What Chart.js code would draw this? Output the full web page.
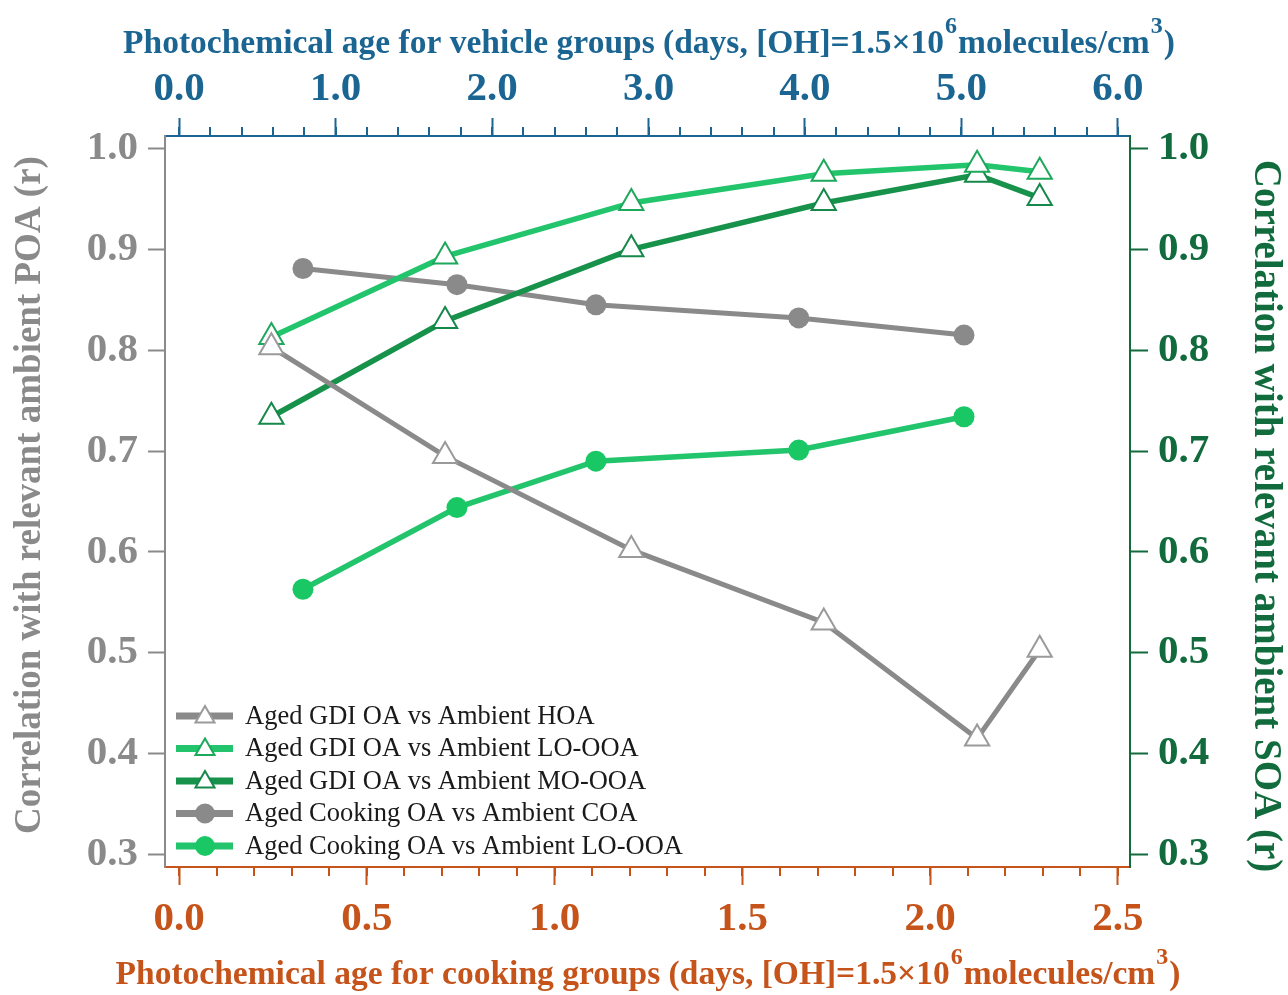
<!DOCTYPE html>
<html>
<head>
<meta charset="utf-8">
<script src="https://cdn.jsdelivr.net/npm/chart.js@4.4.1/dist/chart.umd.min.js"></script>
<style>
  html, body { margin: 0; padding: 0; background: #fff; }
  #wrap { width: 1288px; height: 995px; }
</style>
</head>
<body>
<div id="wrap"><canvas id="chart" width="1288" height="995"></canvas></div>
<script>
// photochemical age (days) of the aged samples
const vehicleAge = [0.59, 1.70, 2.89, 4.12, 5.10, 5.50];
const cookingAge = [0.33, 0.74, 1.11, 1.65, 2.09];

// correlation coefficients (r)
const gdiHOA = [0.803, 0.695, 0.602, 0.530, 0.415, 0.503];
const gdiLOOOA = [0.813, 0.893, 0.946, 0.975, 0.984, 0.977];
const gdiMOOOA = [0.734, 0.829, 0.900, 0.946, 0.974, 0.951];
const cookCOA = [0.881, 0.865, 0.845, 0.832, 0.815];
const cookLOOOA = [0.563, 0.644, 0.690, 0.701, 0.734];

// tick labels
const rTicks = [0.3, 0.4, 0.5, 0.6, 0.7, 0.8, 0.9, 1.0];
const vehicleTicks = [0, 1, 2, 3, 4, 5, 6];
const cookingTicks = [0, 0.5, 1.0, 1.5, 2.0, 2.5];

const GRAY = "#8a8a8a";
const LIGHT_GREEN = "#22c46c";
const DARK_GREEN = "#17924a";
const BLUE = "#1b6592";
const ORANGE = "#c5531a";
const AXIS_GREEN = "#116b3d";
const SERIF = "'Liberation Serif', 'Times New Roman', serif";

const pts = (xs, ys) => xs.map((x, i) => ({ x, y: ys[i] }));

const datasets = [
  {
    label: "Aged GDI OA vs Ambient HOA",
    data: pts(vehicleAge, gdiHOA),
    xAxisID: "xTop", yAxisID: "yLeft",
    borderColor: GRAY, borderWidth: 5,
    pointStyle: "triangle", pointRadius: 14, pointHoverRadius: 14,
    pointBackgroundColor: "#fff", pointBorderColor: "#9a9a9a", pointBorderWidth: 2,
  },
  {
    label: "Aged GDI OA vs Ambient LO-OOA",
    data: pts(vehicleAge, gdiLOOOA),
    xAxisID: "xTop", yAxisID: "yRight",
    borderColor: LIGHT_GREEN, borderWidth: 5.5,
    pointStyle: "triangle", pointRadius: 14, pointHoverRadius: 14,
    pointBackgroundColor: "#fff", pointBorderColor: "#1ea85c", pointBorderWidth: 2,
  },
  {
    label: "Aged GDI OA vs Ambient MO-OOA",
    data: pts(vehicleAge, gdiMOOOA),
    xAxisID: "xTop", yAxisID: "yRight",
    borderColor: DARK_GREEN, borderWidth: 5.5,
    pointStyle: "triangle", pointRadius: 14, pointHoverRadius: 14,
    pointBackgroundColor: "#fff", pointBorderColor: "#15884a", pointBorderWidth: 2,
  },
  {
    label: "Aged Cooking OA vs Ambient COA",
    data: pts(cookingAge, cookCOA),
    xAxisID: "xBottom", yAxisID: "yLeft",
    borderColor: GRAY, borderWidth: 5,
    pointStyle: "circle", pointRadius: 10.5, pointHoverRadius: 10.5,
    pointBackgroundColor: GRAY, pointBorderColor: GRAY, pointBorderWidth: 0,
  },
  {
    label: "Aged Cooking OA vs Ambient LO-OOA",
    data: pts(cookingAge, cookLOOOA),
    xAxisID: "xBottom", yAxisID: "yRight",
    borderColor: LIGHT_GREEN, borderWidth: 5.5,
    pointStyle: "circle", pointRadius: 10.5, pointHoverRadius: 10.5,
    pointBackgroundColor: "#19c864", pointBorderColor: "#19c864", pointBorderWidth: 0,
  },
];

const fixTicks = (values) => (scale) => {
  scale.ticks = values.map((v) => ({ value: v }));
};
const tickFont = { family: SERIF, size: 41, weight: "bold" };
const fmt = (v) => Number(v).toFixed(1);

// minor ticks on both x axes (Chart.js has no minor ticks for linear scales)
const minorTicks = {
  id: "minorTicks",
  afterDraw(chart) {
    const ctx = chart.ctx;
    const draw = (scale, step, max, color, dir) => {
      ctx.save();
      ctx.strokeStyle = color;
      ctx.lineWidth = 2;
      const y0 = dir < 0 ? scale.bottom : scale.top;
      for (let v = 0; v <= max + 1e-9; v += step) {
        const x = Math.round(scale.getPixelForValue(v));
        ctx.beginPath();
        ctx.moveTo(x, y0);
        ctx.lineTo(x, y0 + dir * 9);
        ctx.stroke();
      }
      ctx.restore();
    };
    draw(chart.scales.xTop, 0.2, 6, BLUE, -1);
    draw(chart.scales.xBottom, 0.1, 2.5, ORANGE, 1);
  },
};

// axis titles drawn by hand: the x titles need superscripts and must be
// wider than the plot area (Chart.js squeezes them to the scale width)
const ageTitle = (group) => [
  ["Photochemical age for " + group + " groups (days, [OH]=1.5×10", false],
  ["6", true],
  ["molecules/cm", false],
  ["3", true],
  [")", false],
];

const axisTitles = {
  id: "axisTitles",
  afterDraw(chart) {
    const ctx = chart.ctx;
    const area = chart.chartArea;
    const mainFont = "bold 33.5px " + SERIF;
    const supFont = "bold 24px " + SERIF;

    const drawRich = (parts, cx, baseline, color) => {
      ctx.save();
      ctx.fillStyle = color;
      ctx.textBaseline = "alphabetic";
      ctx.textAlign = "left";
      let total = 0;
      parts.forEach(([t, sup]) => {
        ctx.font = sup ? supFont : mainFont;
        total += ctx.measureText(t).width + (sup ? 2 : 0);
      });
      let x = cx - total / 2;
      parts.forEach(([t, sup]) => {
        ctx.font = sup ? supFont : mainFont;
        if (sup) x += 1;
        ctx.fillText(t, x, sup ? baseline - 20 : baseline);
        x += ctx.measureText(t).width + (sup ? 1 : 0);
      });
      ctx.restore();
    };

    const drawRotated = (text, cx, cy, rot, size, color) => {
      ctx.save();
      ctx.translate(cx, cy);
      ctx.rotate(rot);
      ctx.fillStyle = color;
      ctx.font = "bold " + size + "px " + SERIF;
      ctx.textAlign = "center";
      ctx.textBaseline = "middle";
      ctx.fillText(text, 0, 0);
      ctx.restore();
    };

    drawRich(ageTitle("vehicle"), area.left + 484, area.top - 83, BLUE);
    drawRich(ageTitle("cooking"), area.left + 483, area.bottom + 117, ORANGE);
    drawRotated("Correlation with relevant ambient POA (r)", 30, area.top + 359, -Math.PI / 2, 37, GRAY);
    drawRotated("Correlation with relevant ambient SOA (r)", 1265, area.top + 380, Math.PI / 2, 39, AXIS_GREEN);
  },
};

// legend drawn inside the plot area, line + marker like the original
const insideLegend = {
  id: "insideLegend",
  afterDraw(chart) {
    const ctx = chart.ctx;
    const area = chart.chartArea;
    const x0 = area.left + 11;
    const y0 = area.bottom - 151;
    chart.data.datasets.forEach((ds, i) => {
      const y = y0 + i * 32.5;
      ctx.save();
      ctx.strokeStyle = ds.borderColor;
      ctx.lineWidth = 7;
      ctx.beginPath();
      ctx.moveTo(x0, y);
      ctx.lineTo(x0 + 57, y);
      ctx.stroke();
      ctx.fillStyle = ds.pointBackgroundColor;
      ctx.strokeStyle = ds.pointBorderColor;
      ctx.lineWidth = ds.pointBorderWidth || 0.01;
      const r = ds.pointStyle === "triangle" ? 11 : 10;
      Chart.helpers.drawPoint(ctx, { pointStyle: ds.pointStyle, radius: r, rotation: 0, borderWidth: ds.pointBorderWidth }, x0 + 29, y + (ds.pointStyle === "triangle" ? 1 : 0));
      ctx.fillStyle = "#1a1a1a";
      ctx.font = "26.5px " + SERIF;
      ctx.textBaseline = "middle";
      ctx.textAlign = "left";
      ctx.fillText(ds.label, x0 + 69, y + 1);
      ctx.restore();
    });
  },
};

const ctx = document.getElementById("chart").getContext("2d");
new Chart(ctx, {
  type: "line",
  data: { datasets },
  plugins: [minorTicks, axisTitles, insideLegend],
  options: {
    responsive: false,
    animation: false,
    layout: { padding: 0 },
    plugins: { legend: { display: false }, tooltip: { enabled: false } },
    elements: { line: { tension: 0 } },
    scales: {
      xTop: {
        type: "linear", position: "top",
        min: -0.09, max: 6.077,
        afterBuildTicks: fixTicks(vehicleTicks),
        afterFit: (s) => { s.height = 136; },
        border: { color: BLUE, width: 2 },
        grid: { drawOnChartArea: false, tickLength: 18, tickWidth: 2, tickColor: BLUE },
        ticks: { color: BLUE, font: tickFont, padding: 4, maxRotation: 0, callback: fmt },
      },
      xBottom: {
        type: "linear", position: "bottom",
        min: -0.0373, max: 2.532,
        afterBuildTicks: fixTicks(cookingTicks),
        afterFit: (s) => { s.height = 128; },
        border: { color: ORANGE, width: 2 },
        grid: { drawOnChartArea: false, tickLength: 18, tickWidth: 2, tickColor: ORANGE },
        ticks: { color: ORANGE, font: tickFont, padding: 10, maxRotation: 0, callback: fmt },
      },
      yLeft: {
        type: "linear", position: "left",
        min: 0.2876, max: 1.0124,
        afterBuildTicks: fixTicks(rTicks),
        afterFit: (s) => { s.width = 165; },
        border: { color: GRAY, width: 2 },
        grid: { drawOnChartArea: false, tickLength: 17, tickWidth: 2, tickColor: GRAY },
        ticks: { color: GRAY, font: tickFont, padding: 10, callback: fmt },
      },
      yRight: {
        type: "linear", position: "right",
        min: 0.2876, max: 1.0124,
        afterBuildTicks: fixTicks(rTicks),
        afterFit: (s) => { s.width = 158; },
        border: { color: AXIS_GREEN, width: 2 },
        grid: { drawOnChartArea: false, tickLength: 18, tickWidth: 2, tickColor: AXIS_GREEN },
        ticks: { color: AXIS_GREEN, font: tickFont, padding: 10, callback: fmt },
      },
    },
  },
});
</script>
</body>
</html>
